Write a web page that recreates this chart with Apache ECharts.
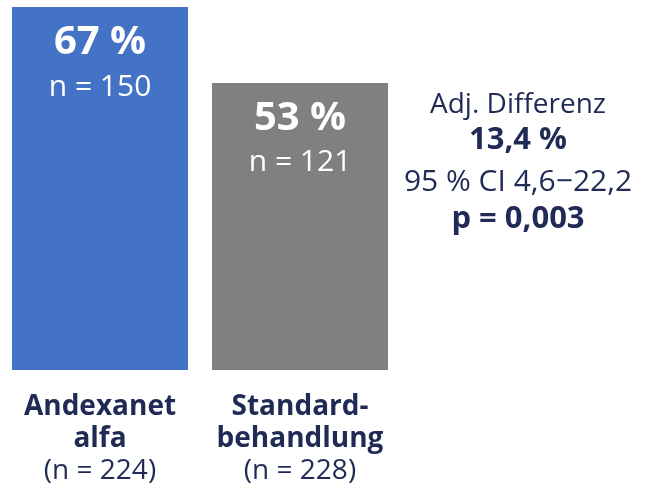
<!DOCTYPE html>
<html>
<head>
<meta charset="utf-8">
<script src="https://cdn.jsdelivr.net/npm/echarts@6/dist/echarts.min.js"></script>
<style>
  html, body { margin: 0; padding: 0; background: #fff; }
  #chart { width: 659px; height: 485px; }
</style>
</head>
<body>
<div id="chart"></div>
<script>
// data
var categories = ['Andexanet\nalfa', 'Standard-\nbehandlung'];
var totals = [224, 228];
var responders = [150, 121];
var percents = [67, 53];
var barColors = ['#4472C4', '#808080'];
var diffLines = ['Adj. Differenz', '13,4 %', '95 % CI 4,6\u221222,2', 'p = 0,003'];
var diffBold = [false, true, false, true];
var diffSize = [28, 31, 30, 31];
var diffY = [105, 140, 182, 219];

var navy = '#1F2A55';
var font = '"Open Sans"';

var myChart = echarts.init(document.getElementById('chart'));

var option = {
  animation: false,
  grid: {
    left: 0,
    width: 400,
    top: 0,
    bottom: 115
  },
  xAxis: {
    type: 'category',
    data: categories,
    axisLine: { show: false },
    axisTick: { show: false },
    axisLabel: {
      interval: 0,
      margin: 21,
      formatter: function (value, idx) {
        var parts = value.split('\n');
        return '{b|' + parts[0] + '}\n{b|' + parts[1] + '}\n{n|(n = ' + totals[idx] + ')}';
      },
      rich: {
        b: { fontFamily: font, fontWeight: 'bold', fontSize: 28, color: navy, lineHeight: 32 },
        n: { fontFamily: font, fontSize: 28, color: navy, lineHeight: 32 }
      }
    }
  },
  yAxis: {
    type: 'value',
    min: 0,
    max: 68.3,
    show: false,
    splitLine: { show: false }
  },
  series: [{
    type: 'bar',
    barWidth: 176,
    data: percents.map(function (v, i) {
      return { value: v, itemStyle: { color: barColors[i] } };
    }),
    label: {
      show: true,
      position: 'insideTop',
      distance: 14,
      formatter: function (p) {
        return '{p|' + p.value + ' %}\n{n|n = ' + responders[p.dataIndex] + '}';
      },
      rich: {
        p: { fontFamily: font, fontWeight: 'bold', fontSize: 40, color: '#fff', lineHeight: 44 },
        n: { fontFamily: font, fontSize: 30, color: '#fff', lineHeight: 44 }
      }
    }
  }],
  graphic: diffLines.map(function (t, i) {
    return {
      type: 'text',
      x: 518,
      y: diffY[i],
      style: {
        text: t,
        align: 'center',
        verticalAlign: 'middle',
        fontFamily: font,
        fontWeight: diffBold[i] ? 'bold' : 'normal',
        fontSize: diffSize[i],
        fill: navy
      }
    };
  })
};

myChart.setOption(option);
</script>
</body>
</html>
